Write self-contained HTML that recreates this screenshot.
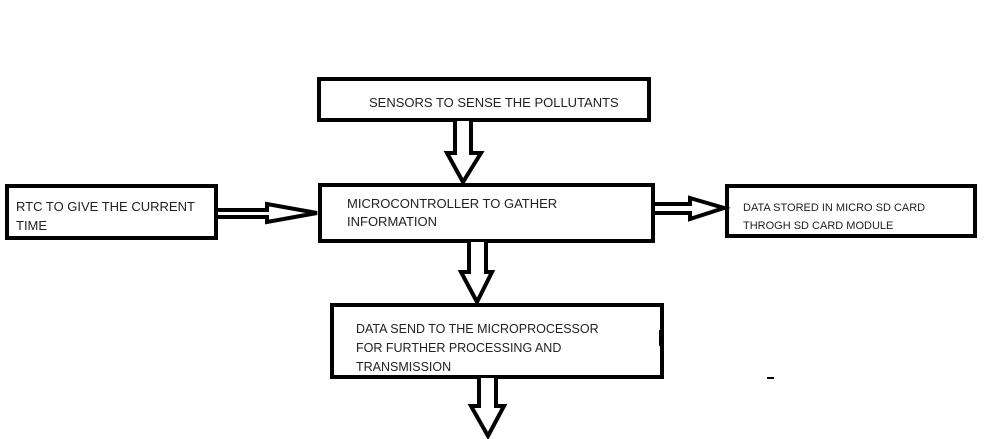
<!DOCTYPE html>
<html><head><meta charset="utf-8"><style>
html,body{margin:0;padding:0;background:#fff;}
svg{display:block;}
text{font-family:"Liberation Sans",sans-serif;fill:#222;}
</style></head><body>
<svg width="1000" height="439" viewBox="0 0 1000 439" xmlns="http://www.w3.org/2000/svg">
<g fill="#fff" stroke="#000" stroke-width="4" stroke-linejoin="miter">
<rect x="319" y="79" width="330" height="41"/>
<rect x="320" y="185" width="333" height="56"/>
<rect x="7" y="186" width="209" height="52"/>
<rect x="727" y="186" width="248" height="50"/>
<rect x="332" y="305" width="330" height="72"/>
</g>
<g fill="#fff" stroke="#000" stroke-width="4" stroke-linejoin="miter">
<!-- top down arrow -->
<path d="M455 121 L455 153 L447 153 L463 182 L481 153 L471 153 L471 121"/>
<!-- middle down arrow -->
<path d="M469 242 L469 272 L461 272 L477 302 L492 272 L486 272 L486 242"/>
<!-- bottom down arrow -->
<path d="M479 378 L479 406 L471 406 L488 436 L504 406 L496 406 L496 378"/>
<!-- left arrow -->
<path d="M218 210 L267 210 L267 204 L317 213 L267 222 L267 217 L218 217"/>
<!-- right arrow -->
<path d="M655 204 L690 204 L690 198 L724 208 L690 219 L690 213 L655 213"/>
</g>
<rect x="659" y="330" width="4" height="16" fill="#000"/>
<rect x="767" y="377" width="7" height="2" fill="#000"/>
<text x="369" y="107" font-size="13">SENSORS TO SENSE THE POLLUTANTS</text>
<text x="347" y="208" font-size="13">MICROCONTROLLER TO GATHER</text>
<text x="347" y="226" font-size="13">INFORMATION</text>
<text x="16" y="211" font-size="13">RTC TO GIVE THE CURRENT</text>
<text x="16" y="230" font-size="13">TIME</text>
<text x="743" y="211" font-size="11">DATA STORED IN MICRO SD CARD</text>
<text x="743" y="229" font-size="11">THROGH SD CARD MODULE</text>
<text x="356" y="333" font-size="12.5">DATA SEND TO THE MICROPROCESSOR</text>
<text x="356" y="352" font-size="12.5">FOR FURTHER PROCESSING AND</text>
<text x="356" y="371" font-size="12.5">TRANSMISSION</text>
</svg>
</body></html>
